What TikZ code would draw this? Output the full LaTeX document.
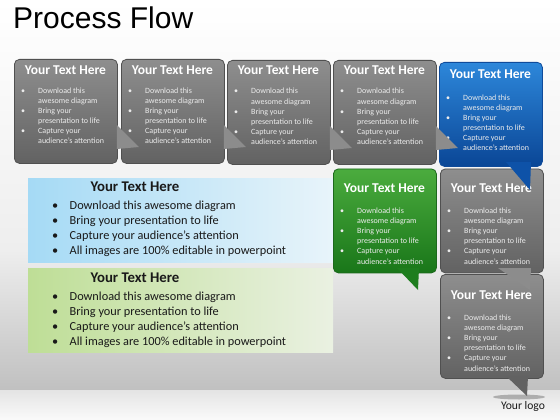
\documentclass[tikz,border=0pt]{standalone}
\usepackage{fontspec}
\setmainfont{Carlito}
\newfontfamily\titlefont{Liberation Sans}
\usetikzlibrary{calc}
\definecolor{gtop}{RGB}{142,142,142}
\definecolor{gbot}{RGB}{98,98,98}
\definecolor{gedge}{RGB}{80,80,80}
\definecolor{gtail}{RGB}{140,140,140}
\definecolor{btop}{RGB}{45,135,218}
\definecolor{bbot}{RGB}{10,70,150}
\definecolor{bedge}{RGB}{15,75,155}
\definecolor{btail}{RGB}{14,82,168}
\definecolor{ntop}{RGB}{75,172,62}
\definecolor{nbot}{RGB}{25,118,25}
\definecolor{nedge}{RGB}{28,105,28}
\definecolor{ntail}{RGB}{30,125,30}
\definecolor{pbl}{RGB}{165,218,245}
\definecolor{pbr}{RGB}{232,244,250}
\definecolor{pgl}{RGB}{190,222,150}
\definecolor{pgr}{RGB}{234,241,226}
\definecolor{bgmid}{RGB}{238,238,238}
\definecolor{bglow}{RGB}{192,192,192}
\definecolor{ltext}{RGB}{236,236,236}
\definecolor{dtext}{RGB}{25,25,25}
\newcommand{\boxlist}{\begin{tabular}[t]{@{}p{17pt}@{}l@{}}\textbullet & Download this\\ & awesome diagram\\ \textbullet & Bring your\\ & presentation to life\\ \textbullet & Capture your\\ & audience’s attention\end{tabular}}
\newcommand{\panellist}{\begin{tabular}[t]{@{}p{17.5pt}@{}l@{}}\textbullet & Download this awesome diagram\\ \textbullet & Bring your presentation to life\\ \textbullet & Capture your audience’s attention\\ \textbullet & All images are 100\% editable in powerpoint\end{tabular}}
\tikzset{
  cbox/.style={rounded corners=5pt, minimum width=103pt, minimum height=104pt, anchor=north west, inner sep=0pt, line width=0.8pt},
  graybox/.style={cbox, top color=gtop, bottom color=gbot, draw=gedge},
  bluebox/.style={cbox, top color=btop, bottom color=bbot, draw=bedge},
  greenbox/.style={cbox, top color=ntop, bottom color=nbot, draw=nedge},
  hdr/.style={anchor=base, inner sep=0pt, text=white, font=\bfseries\fontsize{13.5}{16}\selectfont},
  blt/.style={anchor=base west, inner sep=0pt, text=ltext, font=\fontsize{8}{10.2}\selectfont},
  panel/.style={rectangle, anchor=north west, inner sep=0pt, minimum width=305pt, minimum height=84pt},
  phdr/.style={anchor=base, inner sep=0pt, text=dtext, font=\bfseries\fontsize{14.8}{17}\selectfont},
  plist/.style={anchor=base west, inner sep=0pt, text=dtext, font=\fontsize{12.3}{15}\selectfont},
}
% name, style, L, T, header offset, list offset
\newcommand{\cbox}[6]{%
  \node[#2] (#1) at (#3,#4) {};
  \node[hdr] (#1h) at ({#3+51.5},{#4+#5}) {Your Text Here};
  \node[blt] (#1t) at ({#3+7},{#4+#6}) {\boxlist};
}
\begin{document}
\begin{tikzpicture}[x=1pt,y=-1pt]
\useasboundingbox (0,0) rectangle (560,420);
% background
\shade[top color=white, bottom color=bgmid] (0,0) rectangle (560,250);
\shade[top color=bgmid, bottom color=bglow] (0,250) rectangle (560,390);
\shade[top color={rgb,255:red,228;green,228;blue,228}, bottom color={rgb,255:red,250;green,250;blue,250}] (0,390) rectangle (560,420);
% title
\node[anchor=base west, inner sep=0pt, font=\titlefont\fontsize{30}{34}\selectfont] (title) at (13,28.5) {Process Flow};
% left panels
\node[panel, left color=pbl, right color=pbr] (p1) at (28,178) {};
\node[phdr] (p1h) at (135,191) {Your Text Here};
\node[plist] (p1t) at (52,209.5) {\panellist};
\node[panel, left color=pgl, right color=pgr] (p2) at (28,268) {};
\node[phdr] (p2h) at (135,282) {Your Text Here};
\node[plist] (p2t) at (52,300) {\panellist};
% row 3 and row 2 boxes
\cbox{r3}{graybox}{440}{274}{25}{46}
\cbox{r2}{graybox}{440}{168.5}{24}{44.5}
% row 2 gray tail into row 3
\fill[gtail] ($(r2.north west)+(58,99.5)$) -- ($(r2.north west)+(90,121.5)$) -- ($(r2.north west)+(91,99.5)$) -- cycle;
% shadow and row 3 tail
\fill[black, opacity=0.25] (519,397) ellipse (26pt and 2.5pt);
\fill[gbot] ($(r3.north west)+(66,102)$) -- ($(r3.north west)+(87,122)$) -- ($(r3.north west)+(88,102)$) -- cycle;
\node[anchor=base, inner sep=0pt, text=dtext, font=\fontsize{11.6}{13}\selectfont] (logo) at (523,409) {Your logo};
% row 1 boxes (right to left)
\cbox{b5}{bluebox}{439}{62}{16.3}{38}
\fill[btail] ($(b5.north west)+(67,100)$) -- ($(b5.north west)+(91,128)$) -- ($(b5.north west)+(92,100)$) -- cycle;
\cbox{b4}{graybox}{333}{60}{15}{34}
\fill[gtail] ($(b4.north east)+(-1,66)$) -- ($(b4.north east)+(21,88)$) -- ($(b4.north east)+(-1,90)$) -- cycle;
\cbox{b3}{graybox}{227}{60}{15}{34}
\fill[gtail] ($(b3.north east)+(-1,66)$) -- ($(b3.north east)+(21,88)$) -- ($(b3.north east)+(-1,90)$) -- cycle;
\cbox{b2}{graybox}{121}{59}{15.3}{34}
\fill[gtail] ($(b2.north east)+(-1,66)$) -- ($(b2.north east)+(21,88)$) -- ($(b2.north east)+(-1,90)$) -- cycle;
\cbox{b1}{graybox}{14}{59}{15.3}{34}
\fill[gtail] ($(b1.north east)+(-1,66)$) -- ($(b1.north east)+(21,88)$) -- ($(b1.north east)+(-1,90)$) -- cycle;
% green box
\cbox{g1}{greenbox}{333}{168.5}{24}{44.5}
\fill[ntail] ($(g1.north west)+(64,99.5)$) -- ($(g1.north west)+(85,121.5)$) -- ($(g1.north west)+(86,99.5)$) -- cycle;
\end{tikzpicture}
\end{document}
